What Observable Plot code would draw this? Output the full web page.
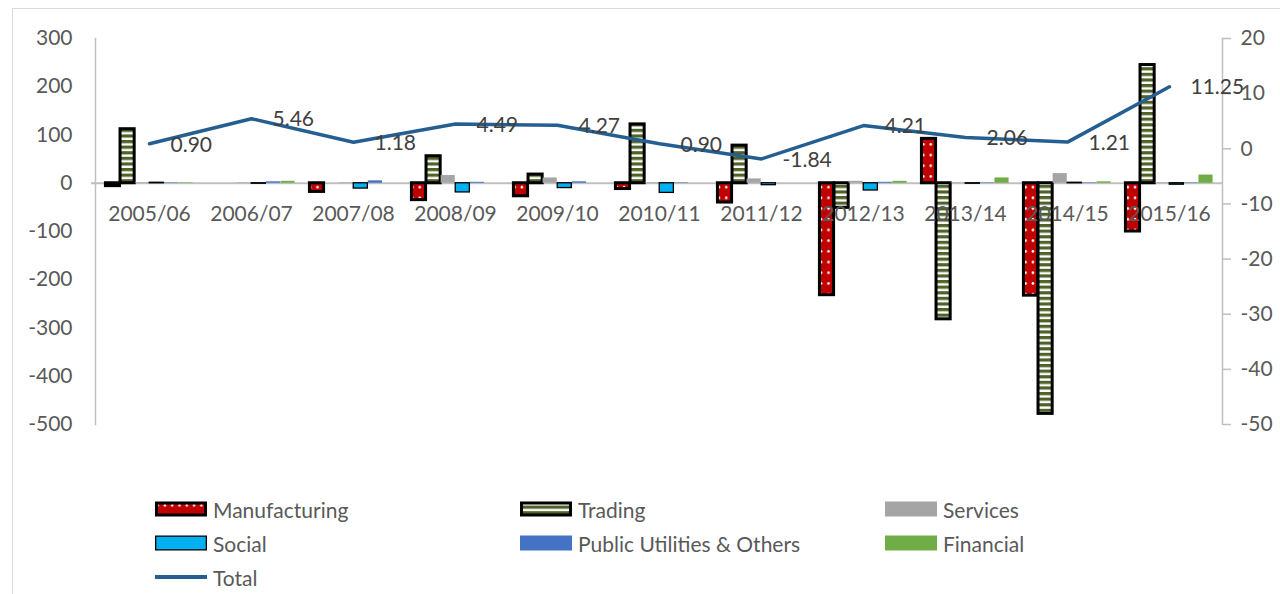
<!DOCTYPE html>
<html>
<head>
<meta charset="utf-8">
<script src="https://cdn.jsdelivr.net/npm/d3@7"></script>
<script src="https://cdn.jsdelivr.net/npm/@observablehq/plot@0.6"></script>
<style>
  html, body { margin: 0; padding: 0; background: #fff; }
  #wrap { position: relative; width: 1280px; height: 594px; overflow: hidden; font-family: Lato, "Open Sans", sans-serif; }
  #border { position: absolute; left: 12px; top: 8px; right: -2px; bottom: -2px; border-left: 1.5px solid #d9d9d9; border-top: 1.5px solid #d9d9d9; pointer-events: none; }
  #chart { position: absolute; left: 0; top: 0; }
  .lg { position: absolute; display: flex; align-items: center; height: 30px; font-size: 21px; color: #595959; white-space: nowrap; }
  .lg svg { margin-right: 5px; }
</style>
</head>
<body>
<svg width="0" height="0" style="position:absolute">
  <defs>
    <pattern id="dots" patternUnits="userSpaceOnUse" width="7.3" height="10.7">
      <rect width="7.3" height="10.7" fill="#C00000"></rect>
      <circle cx="3.6" cy="5.3" r="1.3" fill="#ffffff"></circle>
    </pattern>
    <pattern id="stripes" patternUnits="userSpaceOnUse" width="10" height="5.6">
      <rect width="10" height="5.6" fill="#ffffff"></rect>
      <rect width="10" height="3.2" fill="#4F6228"></rect>
    </pattern>
  </defs>
</svg>
<div id="wrap">
  <div id="border"></div>
  <div id="chart"></div>
</div>
<script>
const years = ["2005/06","2006/07","2007/08","2008/09","2009/10","2010/11","2011/12","2012/13","2013/14","2014/15","2015/16"];
const manufacturing = [-6, 0, -18, -35, -27, -12, -40, -232, 92, -233, -100];
const trading       = [112, 0, 0, 56, 18, 122, 78, -51, -282, -478, 245];
const services      = [1, 1, 1, 16, 11, 1, 9, 4, 1, 20, 1];
const social        = [1, -1, -11, -19, -10, -20, -4, -15, -1, 1, -3];
const publicUtil    = [1, 3, 5, 2, 3, 1, 0, 2, 1, 1, 1];
const financial     = [1, 4, 0, 0, 0, 0, 0, 4, 11, 3, 17];
const total         = [0.90, 5.46, 1.18, 4.49, 4.27, 0.90, -1.84, 4.21, 2.06, 1.21, 11.25];
const leftTicks  = [300, 200, 100, 0, -100, -200, -300, -400, -500];
const rightTicks = [20, 10, 0, -10, -20, -30, -40, -50];

const seriesDefs = [
  {key: "manufacturing", label: "Manufacturing", values: manufacturing, fill: "url(#dots)", stroke: "#000", sw: 3},
  {key: "trading", label: "Trading", values: trading, fill: "url(#stripes)", stroke: "#000", sw: 3},
  {key: "services", label: "Services", values: services, fill: "#A5A5A5", stroke: "none", sw: 0},
  {key: "social", label: "Social", values: social, fill: "#00B0F0", stroke: "#000", sw: 1.3},
  {key: "publicUtil", label: "Public Utilities & Others", values: publicUtil, fill: "#4472C4", stroke: "none", sw: 0},
  {key: "financial", label: "Financial", values: financial, fill: "#70AD47", stroke: "none", sw: 0}
];

const rows = years.map((y, i) => {
  const r = {year: y, total: total[i]};
  seriesDefs.forEach(s => r[s.key] = s.values[i]);
  return r;
});

// right axis [-50, 20] mapped onto left axis [-500, 300]
const toLeft = t => (t + 50) * 800 / 70 - 500;
const fromLeft = v => (v + 500) * 70 / 800 - 50;

const W = 1280, H = 490, mL = 95, mR = 58, mT = 38, mB = 66;
const bw = (W - mL - mR) / years.length;
const barW = 14.6;
const inset = (bw - barW) / 2;

const marks = [
  Plot.ruleY([0], {stroke: "#bfbfbf", strokeWidth: 2, insetLeft: -4})
];
seriesDefs.forEach((s, i) => {
  marks.push(Plot.barY(rows, {
    filter: d => d[s.key] !== 0,
    x: "year", y: d => d[s.key],
    fill: s.fill, stroke: s.stroke, strokeWidth: s.sw,
    dx: (i - 2.5) * barW, insetLeft: inset, insetRight: inset
  }));
});
marks.push(
  Plot.frame({anchor: "left", stroke: "#bfbfbf", strokeWidth: 1.5}),
  Plot.frame({anchor: "right", stroke: "#bfbfbf", strokeWidth: 1.5}),
  Plot.axisY(leftTicks, {anchor: "left", tickSize: 0, tickPadding: 23, tickFormat: d => String(d), fontSize: 21, fill: "#595959"}),
  Plot.axisY(rightTicks.map(toLeft), {anchor: "right", tickSize: 8, tickPadding: 10, stroke: "#bfbfbf", strokeWidth: 1.5, tickFormat: d => String(Math.round(fromLeft(d))), fontSize: 21, fill: "#595959"}),
  Plot.text(rows, {x: "year", y: () => 0, text: "year", dy: 31, fill: "#595959", fontSize: 21}),
  Plot.lineY(rows, {x: "year", y: d => toLeft(d.total), stroke: "#255E91", strokeWidth: 3.5}),
  Plot.text(rows, {x: "year", y: d => toLeft(d.total), text: d => d.total.toFixed(2), dx: 21, dy: 1, textAnchor: "start", fill: "#404040", fontSize: 21})
);

const chart = Plot.plot({
  width: W, height: H,
  marginLeft: mL, marginRight: mR, marginTop: mT, marginBottom: mB,
  style: {fontFamily: "Lato, 'Open Sans', sans-serif", fontSize: "21px", background: "transparent", color: "#595959", overflow: "visible"},
  x: {type: "band", domain: years, padding: 0, axis: null},
  y: {domain: [-500, 300], axis: null},
  marks
});
document.getElementById("chart").appendChild(chart);

// legend
const wrap = document.getElementById("wrap");
const legendItems = [
  {s: seriesDefs[0], x: 154, y: 509},
  {s: seriesDefs[1], x: 519, y: 509},
  {s: seriesDefs[2], x: 884, y: 509},
  {s: seriesDefs[3], x: 154, y: 543},
  {s: seriesDefs[4], x: 519, y: 543},
  {s: seriesDefs[5], x: 884, y: 543},
  {s: {label: "Total", line: true}, x: 154, y: 577}
];
legendItems.forEach(({s, x, y}) => {
  const div = document.createElement("div");
  div.className = "lg";
  div.style.left = x + "px";
  div.style.top = (y - 15) + "px";
  let sw;
  if (s.line) {
    sw = `<svg width="54" height="18"><line x1="1" x2="53" y1="9" y2="9" stroke="#255E91" stroke-width="4"/></svg>`;
  } else {
    const st = s.stroke === "none" ? "" : `stroke="${s.stroke}" stroke-width="${s.sw}"`;
    const o = s.stroke === "none" ? 0 : s.sw / 2;
    sw = `<svg width="54" height="18"><rect x="${1 + o}" y="${1.5 + o}" width="${52 - 2 * o}" height="${15 - 2 * o}" fill="${s.fill}" ${st}/></svg>`;
  }
  div.innerHTML = sw + `<span>${s.label}</span>`;
  wrap.appendChild(div);
});
</script>
</body>
</html>
